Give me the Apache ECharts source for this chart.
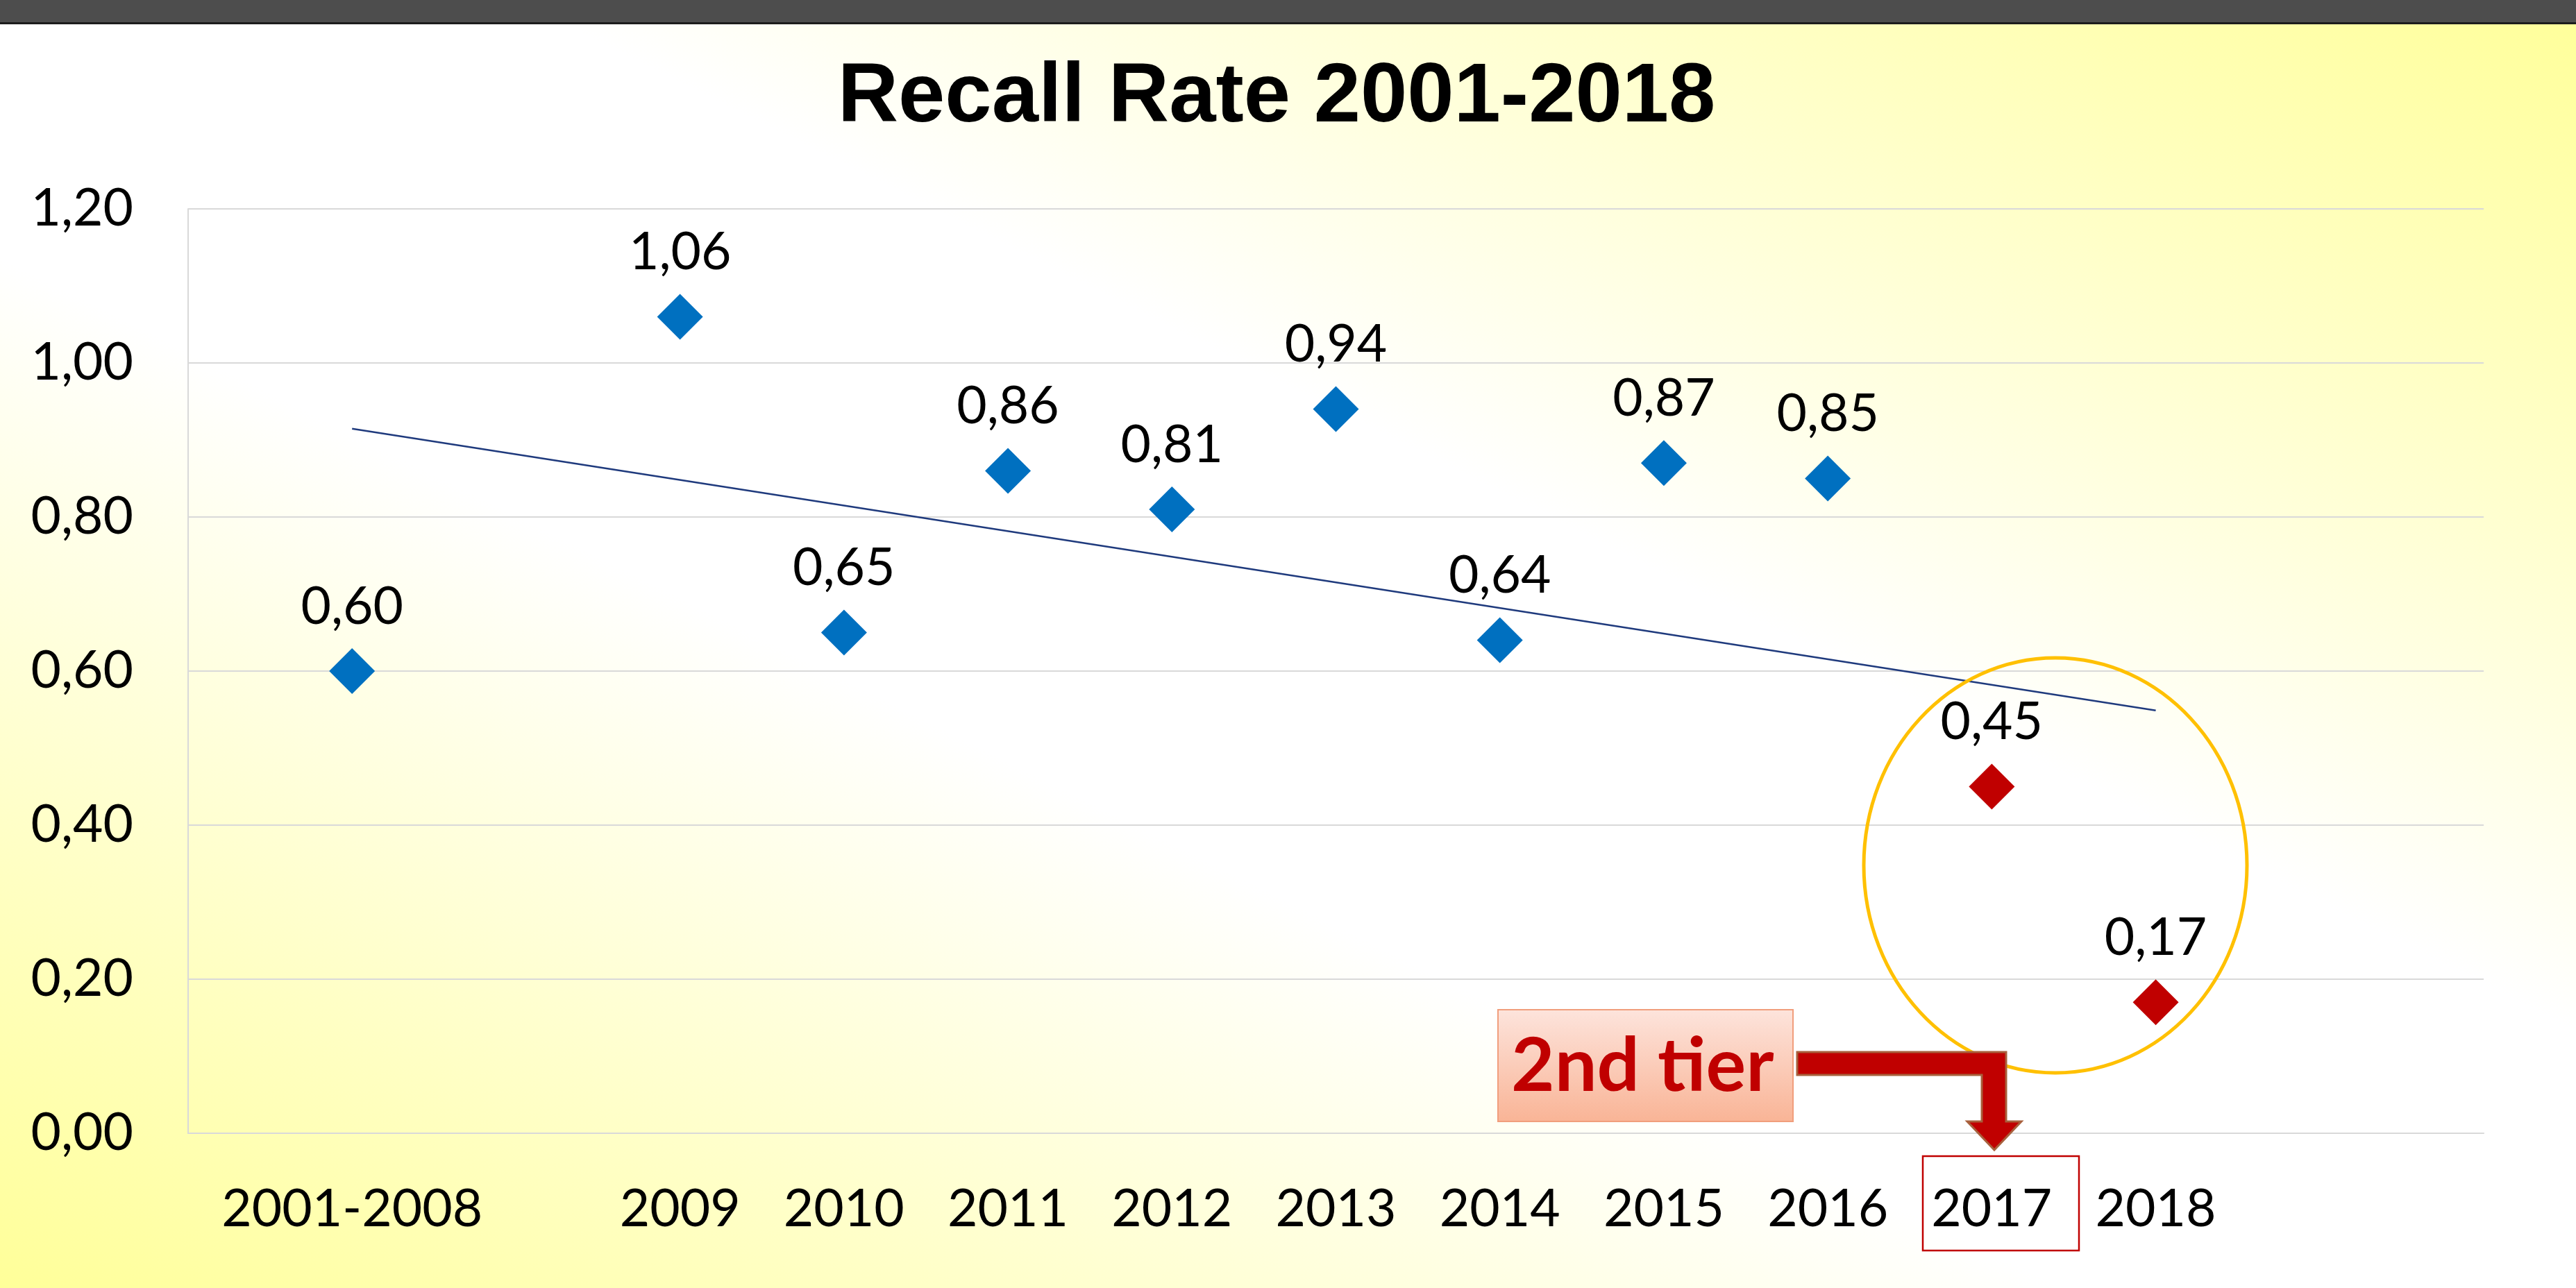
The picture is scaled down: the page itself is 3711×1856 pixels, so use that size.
<!DOCTYPE html>
<html>
<head>
<meta charset="utf-8">
<title>Recall Rate 2001-2018</title>
<script src="https://cdn.jsdelivr.net/npm/echarts@6/dist/echarts.min.js"></script>
<style>
  html, body { margin: 0; padding: 0; }
  #main { width: 3711px; height: 1856px; }
</style>
</head>
<body>
<div id="main"></div>
<script>
// x axis periods and where each one sits on the year scale
var periods = ['2001-2008', '2009', '2010', '2011', '2012', '2013', '2014', '2015', '2016', '2017', '2018'];
var periodYear = [2007, 2009, 2010, 2011, 2012, 2013, 2014, 2015, 2016, 2017, 2018];
var recallRate = [0.60, 1.06, 0.65, 0.86, 0.81, 0.94, 0.64, 0.87, 0.85, 0.45, 0.17];
var secondTier = ['2017', '2018'];
var yTicks = [0, 0.2, 0.4, 0.6, 0.8, 1.0, 1.2];

function fmt(v) {
  return Number(v).toFixed(2).replace('.', ',');
}

// linear trendline (least squares), like the one excel draws
function trendLine() {
  var n = periodYear.length, mx = 0, my = 0, sxy = 0, sxx = 0;
  for (var i = 0; i < n; i++) { mx += periodYear[i]; my += recallRate[i]; }
  mx /= n; my /= n;
  for (var j = 0; j < n; j++) {
    sxy += (periodYear[j] - mx) * (recallRate[j] - my);
    sxx += (periodYear[j] - mx) * (periodYear[j] - mx);
  }
  var b = sxy / sxx, a = my - b * mx;
  var x0 = periodYear[0], x1 = periodYear[n - 1];
  return [[x0, a + b * x0], [x1, a + b * x1]];
}

var points = periodYear.map(function (x, i) {
  var red = secondTier.indexOf(periods[i]) >= 0;
  return { value: [x, recallRate[i]], itemStyle: { color: red ? '#C00000' : '#0070C0', opacity: 1 } };
});

var myChart = echarts.init(document.getElementById('main'));

myChart.setOption({
  animation: false,
  title: {
    text: 'Recall Rate 2001-2018',
    left: 1834,
    textAlign: 'center',
    top: 76,
    textStyle: { fontFamily: 'Liberation Sans', fontWeight: 'bold', fontSize: 121, color: '#000' }
  },
  grid: { left: 271, right: 133, top: 301, bottom: 223 },
  xAxis: {
    type: 'value',
    min: 2006,
    max: 2020,
    interval: 1,
    splitLine: { show: false },
    axisTick: { show: false },
    axisLine: { show: true, lineStyle: { color: '#d9d9d9', width: 2 } },
    axisLabel: {
      customValues: periodYear,
      formatter: function (v) {
        var i = periodYear.indexOf(v);
        return i < 0 ? '' : periods[i];
      },
      margin: 72,
      fontFamily: 'Lato',
      fontSize: 75,
      color: '#000'
    }
  },
  yAxis: {
    type: 'value',
    min: yTicks[0],
    max: yTicks[yTicks.length - 1],
    interval: 0.2,
    axisTick: { show: false },
    axisLine: { show: true, lineStyle: { color: '#d9d9d9', width: 2 } },
    splitLine: { show: true, lineStyle: { color: '#d9d9d9', width: 2 } },
    axisLabel: { formatter: fmt, margin: 79, fontFamily: 'Lato', fontSize: 75, color: '#000' }
  },
  series: [
    {
      name: 'trend',
      type: 'line',
      data: trendLine(),
      symbol: 'none',
      lineStyle: { color: '#1f3a7d', width: 2.5 },
      z: 1
    },
    {
      name: 'Recall Rate',
      type: 'scatter',
      data: points,
      symbol: 'diamond',
      symbolSize: 66,
      itemStyle: { opacity: 1 },
      label: {
        show: true,
        position: 'top',
        distance: 22,
        formatter: function (p) { return fmt(p.value[1]); },
        fontFamily: 'Lato',
        fontSize: 75,
        color: '#000'
      },
      z: 3
    }
  ],
  graphic: [
    {
      type: 'rect', z: -10, silent: true,
      shape: { x: 0, y: 0, width: 3711, height: 1856 },
      style: {
        fill: new echarts.graphic.LinearGradient(1113, 2412, 2597, -556, [
          { offset: 0, color: '#ffff99' },
          { offset: 0.4, color: '#ffffff' },
          { offset: 0.6, color: '#ffffff' },
          { offset: 1, color: '#ffff99' }
        ], true)
      }
    },
    { type: 'rect', z: 10, shape: { x: 0, y: 0, width: 3711, height: 32 }, style: { fill: '#4d4d4d' } },
    { type: 'rect', z: 10, shape: { x: 0, y: 32, width: 3711, height: 3 }, style: { fill: '#1c1c1c' } },
    {
      type: 'ellipse', z: 10,
      shape: { cx: 2961, cy: 1247, rx: 276, ry: 299 },
      style: { fill: 'none', stroke: '#FFC000', lineWidth: 5 }
    },
    {
      type: 'rect', z: 10,
      shape: { x: 2158, y: 1455, width: 425, height: 161 },
      style: {
        fill: new echarts.graphic.LinearGradient(0, 0, 0, 1, [
          { offset: 0, color: '#fde4dc' },
          { offset: 1, color: '#f9b496' }
        ]),
        stroke: '#f19e7c',
        lineWidth: 2
      }
    },
    {
      type: 'text', z: 11,
      x: 2177, y: 1537,
      style: {
        text: '2nd tier',
        fontFamily: 'Lato', fontWeight: 'bold', fontSize: 108,
        fill: '#C00000',
        verticalAlign: 'middle'
      }
    },
    {
      type: 'polygon', z: 10,
      shape: {
        points: [[2589, 1516], [2890, 1516], [2890, 1616], [2912, 1616], [2873, 1657],
                 [2834, 1616], [2855, 1616], [2855, 1549], [2589, 1549]]
      },
      style: { fill: '#C00000', stroke: '#a8603c', lineWidth: 3 }
    },
    {
      type: 'rect', z: 10,
      shape: { x: 2770, y: 1666, width: 225, height: 136 },
      style: { fill: 'none', stroke: '#C00000', lineWidth: 2.5 }
    }
  ]
});
</script>
</body>
</html>
